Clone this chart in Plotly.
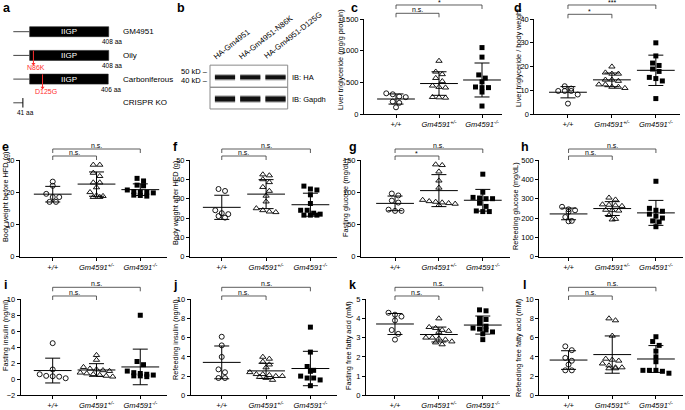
import numpy as np
import plotly.graph_objects as go

W, H = 685, 410
FONT = "Liberation Sans, Arial, Helvetica, sans-serif"

# ---------------- data ----------------
group_ticktext = ["+/+", "Gm4591<sup>+/-</sup>", "Gm4591<sup>-/-</sup>"]

c_wt = [330, 315, 280, 270, 200, 180, 110]
c_het = [840, 670, 630, 570, 520, 450, 430, 420, 270, 265, 260]
c_ko = [1050, 900, 620, 570, 510, 430, 420, 420, 350, 130]

d_wt = [11.8, 10.8, 9.8, 9.8, 9.8, 8.3, 4.5]
d_het = [20, 17.5, 17, 17, 14.5, 14.5, 14, 12.5, 12.5, 11.5, 11.5, 11]
d_ko = [30, 24.5, 21.5, 20.5, 19, 18, 15.5, 15, 14, 6.6]

e_wt = [23.3, 22, 19.5, 18.5, 18.5, 17, 17]
e_het = [28.5, 28.5, 26, 25, 23, 23, 21.5, 20, 19, 18.8, 18.5, 18.5]
e_ko = [24.3, 23.5, 22.2, 22, 20.7, 20.2, 20, 20, 19.8, 19.1, 19, 18.8]

f_wt = [35, 34, 24, 22.5, 22, 21, 20.2]
f_het = [42.5, 42, 40, 38.5, 36, 34, 31.5, 28.5, 25, 24, 23.3, 23]
f_ko = [36.5, 35, 34.5, 32, 27.5, 24, 24, 22.5, 22, 21.5, 21.5, 21.5]

g_wt = [98, 95, 87, 84, 73, 71, 71]
g_het = [143, 142, 132, 118, 107, 88, 86, 85, 84, 83, 82, 80]
g_ko = [128, 100, 92, 91, 90, 90, 83, 78, 71, 70, 70]

h_wt = [258, 245, 240, 232, 205, 185, 183]
h_het = [305, 295, 270, 268, 265, 262, 242, 240, 238, 215, 195, 192]
h_ko = [390, 250, 240, 235, 220, 210, 200, 185, 180, 155]

i_wt = [4.5, 1.2, 0.6, 0.4, 0.35, 0.3, 0.1]
i_het = [3.0, 2.4, 1.5, 1.3, 1.2, 1.1, 1.0, 0.8, 0.7, 0.6, 0.5, 0.4, 0.3]
i_ko = [8.0, 2.2, 1.8, 1.0, 0.8, 0.7, 0.6, 0.5, 0.4, 0.4, 0.3]

j_wt = [6.1, 5.2, 4.0, 2.7, 2.4, 1.8, 1.8]
j_het = [4.0, 3.8, 3.5, 3.2, 2.9, 2.4, 2.2, 2.2, 2.1, 2.0, 2.0, 1.9, 1.8, 1.6]
j_ko = [7.1, 4.5, 3.0, 2.6, 2.5, 2.0, 1.8, 1.8, 1.6, 1.0]

k_wt = [4.3, 4.2, 4.1, 3.9, 3.4, 3.2, 2.9]
k_het = [4.0, 3.55, 3.5, 3.4, 3.35, 3.3, 3.0, 3.0, 2.95, 2.9, 2.8, 2.75, 2.65]
k_ko = [4.45, 4.4, 4.0, 3.95, 3.75, 3.6, 3.5, 3.45, 3.4, 3.3, 3.2, 2.9]

l_wt = [5.1, 4.7, 3.9, 3.6, 3.2, 2.6, 2.6]
l_het = [8.0, 7.8, 6.2, 3.8, 3.7, 3.6, 3.3, 3.1, 2.9, 2.9, 2.8, 2.8]
l_ko = [6.1, 5.6, 5.2, 4.6, 4.0, 3.5, 2.6, 2.6, 2.6, 2.5, 2.3]

# schematic (panel a)
constructs = ["GM4951", "Oily", "Carboniferous", "CRISPR KO"]
construct_len = [408, 408, 406, 41]
len_labels = ["408 aa", "408 aa", "406 aa", "41 aa"]
domain_name = "IIGP"
iigp_start = 70
mut_rows = [1, 2]
mut_pos = [86, 125]
mut_names = ["N86K", "D125G"]

# western blot (panel b)
blot_lanes = ["HA-Gm4951", "HA-Gm4951-N86K", "HA-Gm4951-D125G"]
blot_rows = ["IB: HA", "IB: Gapdh"]
blot_markers = ["50 kD", "40 kD"]

panel_specs = [
    dict(key="c", data=(c_wt, c_het, c_ko), title="Liver triglyceride (mg/g protein)", yr=(0, 1500), dt=500,
         br=[("n.s.", 1), ("*", 2)]),
    dict(key="d", data=(d_wt, d_het, d_ko), title="Liver triglyceride / body weight", yr=(0, 40), dt=10,
         br=[("*", 1), ("***", 2)]),
    dict(key="e", data=(e_wt, e_het, e_ko), title="Body weight before HFD (g)", yr=(0, 30), dt=10,
         br=[("n.s.", 1), ("n.s.", 2)]),
    dict(key="f", data=(f_wt, f_het, f_ko), title="Body weight after HFD (g)", yr=(0, 50), dt=10,
         br=[("n.s.", 1), ("n.s.", 2)]),
    dict(key="g", data=(g_wt, g_het, g_ko), title="Fasting glucose (mg/dL)", yr=(0, 150), dt=50,
         br=[("*", 1), ("n.s.", 2)]),
    dict(key="h", data=(h_wt, h_het, h_ko), title="Refeeding glucose (mg/dL)", yr=(0, 500), dt=100,
         br=[("n.s.", 1), ("n.s.", 2)]),
    dict(key="i", data=(i_wt, i_het, i_ko), title="Fasting insulin (ng/ml)", yr=(-2, 10), dt=2,
         br=[("n.s.", 1), ("n.s.", 2)]),
    dict(key="j", data=(j_wt, j_het, j_ko), title="Refeeding insulin (ng/ml)", yr=(0, 10), dt=2,
         br=[("n.s.", 1), ("n.s.", 2)]),
    dict(key="k", data=(k_wt, k_het, k_ko), title="Fasting free fatty acid (mM)", yr=(0, 5), dt=1,
         br=[("n.s.", 1), ("n.s.", 2)]),
    dict(key="l", data=(l_wt, l_het, l_ko), title="Refeeding free fatty acid (mM)", yr=(0, 10), dt=2,
         br=[("n.s.", 1), ("n.s.", 2)]),
]

# ---------------- layout geometry (pixels) ----------------
panel_geom = {
    "c": dict(px=(364, 502), py=(19, 114.3), xr=(-0.744, 2.465), title=(340, 60), letter=(354, 0), br=(13.3, 5)),
    "d": dict(px=(534.3, 680), py=(19, 114.3), xr=(-0.766, 2.55), title=(518, 58), letter=(518, 0), br=(14.3, 5)),
    "e": dict(px=(20, 167), py=(160, 256.7), xr=(-0.748, 2.61), title=(5, 197), letter=(5, 139), br=(156, 149)),
    "f": dict(px=(190, 337), py=(160, 256.7), xr=(-0.717, 2.6), title=(175, 203), letter=(175, 139), br=(156, 149)),
    "g": dict(px=(361, 510), py=(160, 256.7), xr=(-0.776, 2.62), title=(345, 198), letter=(353, 139), br=(156, 149)),
    "h": dict(px=(539.3, 683), py=(160, 256.7), xr=(-0.67, 2.62), title=(515, 206), letter=(525, 139), br=(156, 149)),
    "i": dict(px=(20.7, 167), py=(299.3, 395), xr=(-0.73, 2.61), title=(5, 336), letter=(5, 277), br=(296, 287.3)),
    "j": dict(px=(190.7, 337), py=(299.3, 395.3), xr=(-0.70, 2.6), title=(175, 340), letter=(175, 277), br=(296, 287.3)),
    "k": dict(px=(366, 510), py=(299.3, 395.3), xr=(-0.66, 2.62), title=(348, 345), letter=(353, 277), br=(296, 287.3)),
    "l": dict(px=(539.3, 683), py=(299.3, 395.3), xr=(-0.67, 2.62), title=(518, 348), letter=(524, 277), br=(296, 287.3)),
}


def fx(px):
    return px / W


def fy(py):
    return 1 - py / H


def axid(n):
    return "" if n == 1 else str(n)


def spread(vals, ppu_y, ppu_x, row_px=4.0, gap_px=6.5):
    v = np.asarray(vals, float)
    order = np.argsort(-v, kind="stable")
    offs = np.zeros(len(v))
    rows, cur = [], [order[0]]
    for idx in order[1:]:
        if (v[cur[0]] - v[idx]) * ppu_y < row_px:
            cur.append(idx)
        else:
            rows.append(cur)
            cur = [idx]
    rows.append(cur)
    for r in rows:
        n = len(r)
        for k, idx in enumerate(r):
            offs[idx] = (k - (n - 1) / 2) * gap_px / ppu_x
    return offs


group_marker = [
    dict(symbol="circle-open", size=5, color="black", line=dict(width=0.9, color="black")),
    dict(symbol="triangle-up-open", size=5.5, color="black", line=dict(width=0.9, color="black")),
    dict(symbol="square", size=5, color="black", line=dict(width=0, color="black")),
]

BLACK = "black"
fig = go.Figure()
layout = dict(
    template="none",
    width=W, height=H, autosize=False,
    margin=dict(l=0, r=0, t=0, b=0, pad=0),
    paper_bgcolor="white", plot_bgcolor="white",
    font=dict(family=FONT, size=7.5, color=BLACK),
    showlegend=False,
)
shapes, annotations = [], []


def txt_font(size, color=BLACK):
    return dict(size=size, color=color, family=FONT)


for n, spec in enumerate(panel_specs, start=1):
    g = panel_geom[spec["key"]]
    xs, ys = "x" + axid(n), "y" + axid(n)
    x0, x1 = g["px"]
    ytop, ybot = g["py"]
    xr, yr = g["xr"], spec["yr"]
    ppu_x = (x1 - x0) / (xr[1] - xr[0])
    ppu_y = (ybot - ytop) / (yr[1] - yr[0])
    for gi, vals in enumerate(spec["data"]):
        offs = spread(vals, ppu_y, ppu_x)
        fig.add_trace(go.Scatter(x=gi + offs, y=vals, mode="markers", marker=group_marker[gi],
                                 xaxis=xs, yaxis=ys, cliponaxis=False, hoverinfo="skip"))
    means = [float(np.mean(v)) for v in spec["data"]]
    sds = [float(np.std(v, ddof=1)) for v in spec["data"]]
    fig.add_trace(go.Scatter(
        x=[0, 1, 2], y=means, mode="markers",
        marker=dict(symbol="line-ew", size=27, color=BLACK, line=dict(width=1, color=BLACK)),
        error_y=dict(type="data", array=sds, visible=True, color=BLACK, thickness=1, width=7.5),
        xaxis=xs, yaxis=ys, cliponaxis=False, hoverinfo="skip"))

    layout["xaxis" + axid(n)] = dict(
        domain=[fx(x0), fx(x1)], range=list(xr), anchor=ys,
        showline=True, linecolor=BLACK, linewidth=1,
        ticks="outside", ticklen=3, tickwidth=1, tickcolor=BLACK,
        tickmode="array", tickvals=[0, 1, 2], ticktext=group_ticktext,
        tickfont=dict(size=7.5, style="italic", family=FONT, color=BLACK),
        showgrid=False, zeroline=False, fixedrange=True)
    layout["yaxis" + axid(n)] = dict(
        domain=[fy(ybot), fy(ytop)], range=list(yr), anchor=xs,
        showline=True, linecolor=BLACK, linewidth=1,
        ticks="outside", ticklen=3, tickwidth=1, tickcolor=BLACK,
        tick0=yr[0], dtick=spec["dt"], tickfont=dict(size=7.5, family=FONT, color=BLACK),
        showgrid=False, zeroline=False, fixedrange=True)

    tx, ty = g["title"]
    annotations.append(dict(text=spec["title"], x=fx(tx), y=fy(ty), xref="paper", yref="paper",
                            showarrow=False, textangle=-90, xanchor="center", yanchor="middle",
                            font=txt_font(7.3)))
    lx, ly = g["letter"]
    annotations.append(dict(text="<b>%s</b>" % spec["key"], x=fx(lx), y=fy(ly), xref="paper", yref="paper",
                            showarrow=False, xanchor="center", yanchor="top", borderpad=0,
                            font=txt_font(12.5)))
    for (txt, j), yb in zip(spec["br"], g["br"]):
        shapes.append(dict(type="path", xref=xs, yref="paper",
                           path="M 0,%f L 0,%f L %d,%f L %d,%f" % (fy(yb + 4), fy(yb), j, fy(yb), j, fy(yb + 4)),
                           line=dict(color="#333", width=0.8)))
        annotations.append(dict(text=txt, x=j / 2, y=fy(yb), xref=xs, yref="paper", showarrow=False,
                                xanchor="center", yanchor="bottom",
                                yshift=-2.5 if txt.startswith("*") else -1.5, font=txt_font(7)))

# ---------------- panel a: schematic ----------------
na = 11
xa_, ya_ = "x" + str(na), "y" + str(na)
s_aa = (108.7 - 13.3) / 408.0
a_px = (5, 175)
a_py = (20, 120)
row_px = 23.7
layout["xaxis" + str(na)] = dict(domain=[fx(a_px[0]), fx(a_px[1])],
                                 range=[(a_px[0] - 13.3) / s_aa, (a_px[1] - 13.3) / s_aa],
                                 visible=False, anchor=ya_, fixedrange=True)
layout["yaxis" + str(na)] = dict(domain=[fy(a_py[1]), fy(a_py[0])],
                                 range=[(a_py[1] - 31.7) / row_px, (a_py[0] - 31.7) / row_px],
                                 visible=False, anchor=xa_, fixedrange=True)
rows = list(range(len(constructs)))
full_rows = [r for r in rows if construct_len[r] > iigp_start]
lx_, ly_ = [], []
for r in rows:
    lx_ += [0, min(iigp_start, construct_len[r]), None]
    ly_ += [r, r, None]
fig.add_trace(go.Scatter(x=lx_, y=ly_, mode="lines", line=dict(color="#444", width=1),
                         xaxis=xa_, yaxis=ya_, hoverinfo="skip"))
fig.add_trace(go.Bar(y=full_rows, x=[construct_len[r] - iigp_start for r in full_rows], base=iigp_start,
                     orientation="h", width=0.42, marker=dict(color=BLACK, line=dict(width=0.6, color="#222")),
                     xaxis=xa_, yaxis=ya_, hoverinfo="skip"))
for r in full_rows:
    annotations.append(dict(text=domain_name, x=(iigp_start + construct_len[r]) / 2, y=r, xref=xa_, yref=ya_,
                            showarrow=False, xanchor="center", yanchor="middle",
                            font=txt_font(8, "white")))
ko_rows = [r for r in rows if construct_len[r] <= iigp_start]
tx_, ty_ = [], []
for r in ko_rows:
    tx_ += [construct_len[r], construct_len[r], None]
    ty_ += [r - 0.2, r + 0.2, None]
fig.add_trace(go.Scatter(x=tx_, y=ty_, mode="lines", line=dict(color=BLACK, width=1),
                         xaxis=xa_, yaxis=ya_, hoverinfo="skip"))
RED = "#ff2d2d"
mx_, my_ = [], []
for r, p in zip(mut_rows, mut_pos):
    mx_ += [p, p, None]
    my_ += [r - 0.2, r + 0.36, None]
fig.add_trace(go.Scatter(x=mx_, y=my_, mode="lines", line=dict(color=RED, width=1),
                         xaxis=xa_, yaxis=ya_, hoverinfo="skip"))
fig.add_trace(go.Scatter(x=mut_pos, y=[r + 0.36 for r in mut_rows], mode="markers",
                         marker=dict(symbol="triangle-down", size=3.5, color=RED),
                         xaxis=xa_, yaxis=ya_, hoverinfo="skip"))
for r, p, nm in zip(mut_rows, mut_pos, mut_names):
    annotations.append(dict(text=nm, x=p, y=r + 0.52, xref=xa_, yref=ya_, showarrow=False,
                            xanchor="center", yanchor="middle", xshift=3, font=txt_font(7, RED)))
for r in rows:
    annotations.append(dict(text=constructs[r], x=fx(120.7), y=r, xref="paper", yref=ya_, showarrow=False,
                            xanchor="left", yanchor="middle", font=txt_font(8)))
    annotations.append(dict(text=len_labels[r], x=construct_len[r], y=r + 0.42, xref=xa_, yref=ya_,
                            showarrow=False, xanchor="center", yanchor="middle", xshift=3,
                            font=txt_font(6.5)))
annotations.append(dict(text="<b>a</b>", x=fx(7), y=1, xref="paper", yref="paper", showarrow=False,
                        xanchor="center", yanchor="top", borderpad=0, font=txt_font(12.5)))

# ---------------- panel b: western blot ----------------
nb = 12
xb_, yb_ = "x" + str(nb), "y" + str(nb)
lane_px = 25.25
b_px = (205, 295)
b_py = (60, 115)
brow_px = 21.7
layout["xaxis" + str(nb)] = dict(domain=[fx(b_px[0]), fx(b_px[1])],
                                 range=[(b_px[0] - 225) / lane_px, (b_px[1] - 225) / lane_px],
                                 visible=False, anchor=yb_, fixedrange=True)
layout["yaxis" + str(nb)] = dict(domain=[fy(b_py[1]), fy(b_py[0])],
                                 range=[(b_py[1] - 77.3) / brow_px, (b_py[0] - 77.3) / brow_px],
                                 visible=False, anchor=xb_, fixedrange=True)
lanes = list(range(len(blot_lanes)))
for r, (w_in, w_out) in enumerate([(4.0, 6.5), (5.0, 7.5)]):
    bx, by = [], []
    for ln in lanes:
        bx += [ln - 0.4, ln + 0.4, None]
        by += [r, r, None]
    fig.add_trace(go.Scatter(x=bx, y=by, mode="lines", line=dict(color="rgba(0,0,0,0.3)", width=w_out),
                             xaxis=xb_, yaxis=yb_, hoverinfo="skip"))
    fig.add_trace(go.Scatter(x=bx, y=by, mode="lines", line=dict(color="#111", width=w_in),
                             xaxis=xb_, yaxis=yb_, hoverinfo="skip"))
    shapes.append(dict(type="rect", xref=xb_, yref=yb_, x0=-0.594, x1=2.483,
                       y0=r - 0.56 + 0.02 * r, y1=r + 0.46,
                       line=dict(color="#8a8a8a", width=1), fillcolor="rgba(0,0,0,0)"))
    annotations.append(dict(text=blot_rows[r], x=fx(290), y=r, xref="paper", yref=yb_, showarrow=False,
                            xanchor="left", yanchor="middle", font=txt_font(7.5)))
for mk, mpy in zip(blot_markers, [71.7, 81.0]):
    annotations.append(dict(text=mk + " –", x=fx(210), y=fy(mpy), xref="paper", yref="paper",
                            showarrow=False, xanchor="right", yanchor="middle", font=txt_font(7.5)))
for ln in lanes:
    annotations.append(dict(text=blot_lanes[ln], x=ln, y=fy(64), xref=xb_, yref="paper", showarrow=False,
                            textangle=-38, xanchor="left", yanchor="bottom", xshift=-16,
                            font=txt_font(7.8)))
annotations.append(dict(text="<b>b</b>", x=fx(181), y=1, xref="paper", yref="paper", showarrow=False,
                        xanchor="center", yanchor="top", borderpad=0, font=txt_font(12.5)))

layout["shapes"] = shapes
layout["annotations"] = annotations
fig.update_layout(**layout)
fig.update_traces(showlegend=False)
fig.write_html("out.html", config={"displayModeBar": False},
               post_script="document.body.style.margin='0px';document.body.style.overflow='hidden';")
